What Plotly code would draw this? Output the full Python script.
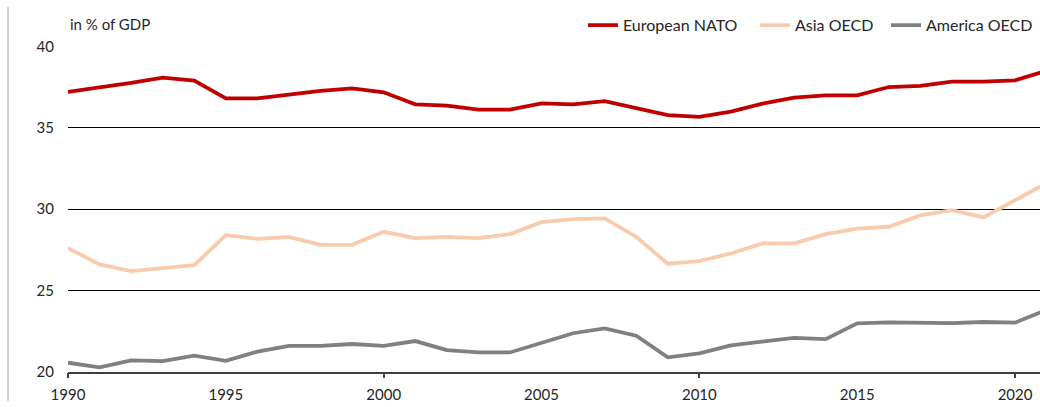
import plotly.graph_objects as go

# data (share of GDP, %)
years = list(range(1990, 2022))

european_nato = [37.2, 37.45, 37.75, 38.08, 37.9, 36.8, 36.8, 37.04, 37.26, 37.42,
                 37.18, 36.44, 36.36, 36.11, 36.11, 36.5, 36.44, 36.63, 36.18, 35.77,
                 35.67, 35.99, 36.48, 36.85, 36.99, 36.99, 37.5, 37.57, 37.83, 37.83,
                 37.91, 38.5]
asia_oecd = [27.6, 26.61, 26.2, 26.4, 26.56, 28.4, 28.18, 28.3, 27.81, 27.81,
             28.61, 28.22, 28.3, 28.22, 28.47, 29.2, 29.39, 29.43, 28.3, 26.65,
             26.81, 27.28, 27.9, 27.9, 28.47, 28.81, 28.92, 29.62, 29.94, 29.49,
             30.55, 31.6]
america_oecd = [20.57, 20.28, 20.71, 20.67, 21.0, 20.69, 21.25, 21.61, 21.61, 21.72,
                21.6, 21.9, 21.35, 21.2, 21.2, 21.8, 22.38, 22.68, 22.23, 20.9,
                21.15, 21.64, 21.86, 22.09, 22.02, 22.99, 23.05, 23.0, 23.0, 23.07,
                23.03, 23.82]

series = [("European NATO", european_nato, "#C00000"),
          ("Asia OECD", asia_oecd, "#F8CBAD"),
          ("America OECD", america_oecd, "#808080")]

FONT = "Lato"
TXT = "#262626"
FS = 15

# one legend per series so each entry sits where the original has it
legend_ids = ["legend", "legend2", "legend3"]
legend_x = [0.5298, 0.7068, 0.8416]

fig = go.Figure()
for (name, vals, col), lg in zip(series, legend_ids):
    fig.add_trace(go.Scatter(x=years, y=vals, mode="lines", name=name, legend=lg,
                             line=dict(color=col, width=3.8)))

# invisible trace on overlay axis so the 10-year tick marks show
fig.add_trace(go.Scatter(x=[1990], y=[20], xaxis="x2", mode="markers",
                         marker=dict(opacity=0), showlegend=False, hoverinfo="skip"))

legends = {}
for lg, lx in zip(legend_ids, legend_x):
    legends[lg] = dict(orientation="h", x=lx, xanchor="left", y=1.064, yanchor="middle",
                       font=dict(size=16, color=TXT), itemwidth=30, borderwidth=0,
                       bgcolor="rgba(0,0,0,0)")

xr = [1990, 2020.79]
fig.update_layout(
    width=1040, height=407,
    margin=dict(l=68, r=0, t=46, b=35),
    paper_bgcolor="white", plot_bgcolor="white",
    font=dict(family=FONT, size=FS, color=TXT),
    showlegend=True,
    xaxis=dict(range=xr, tickvals=[1990, 1995, 2000, 2005, 2010, 2015, 2020],
               showgrid=False, zeroline=False, showline=True, linecolor="#404040",
               linewidth=1.5, ticks="", ticklabelstandoff=8,
               tickfont=dict(size=FS, color=TXT)),
    xaxis2=dict(range=xr, overlaying="x", side="bottom", tickvals=[1990, 2000, 2010, 2020],
                ticks="outside", ticklen=5, tickwidth=1.5, tickcolor="#404040",
                showticklabels=False, showgrid=False, zeroline=False, showline=False),
    yaxis=dict(range=[20, 40.02], tickvals=[20, 25, 30, 35, 40], showgrid=True,
               gridcolor="#000000", gridwidth=1, zeroline=False, showline=False,
               ticks="", ticklabelstandoff=13, tickfont=dict(size=FS, color=TXT)),
    annotations=[dict(text="in % of GDP", xref="paper", yref="paper", x=0, y=1,
                      xanchor="left", yanchor="bottom", yshift=11, showarrow=False,
                      font=dict(size=FS, color=TXT))],
    # thin grey frame line at the left edge of the original image
    shapes=[dict(type="line", xref="paper", yref="paper", x0=-0.0617, x1=-0.0617,
                 y0=-0.09, y1=1.12, layer="above", line=dict(color="#BFBFBF", width=1.5))],
    **legends,
)

fig.write_html("out.html", config={"displayModeBar": False},
               post_script="document.body.style.margin='0';document.body.style.overflow='hidden';")
